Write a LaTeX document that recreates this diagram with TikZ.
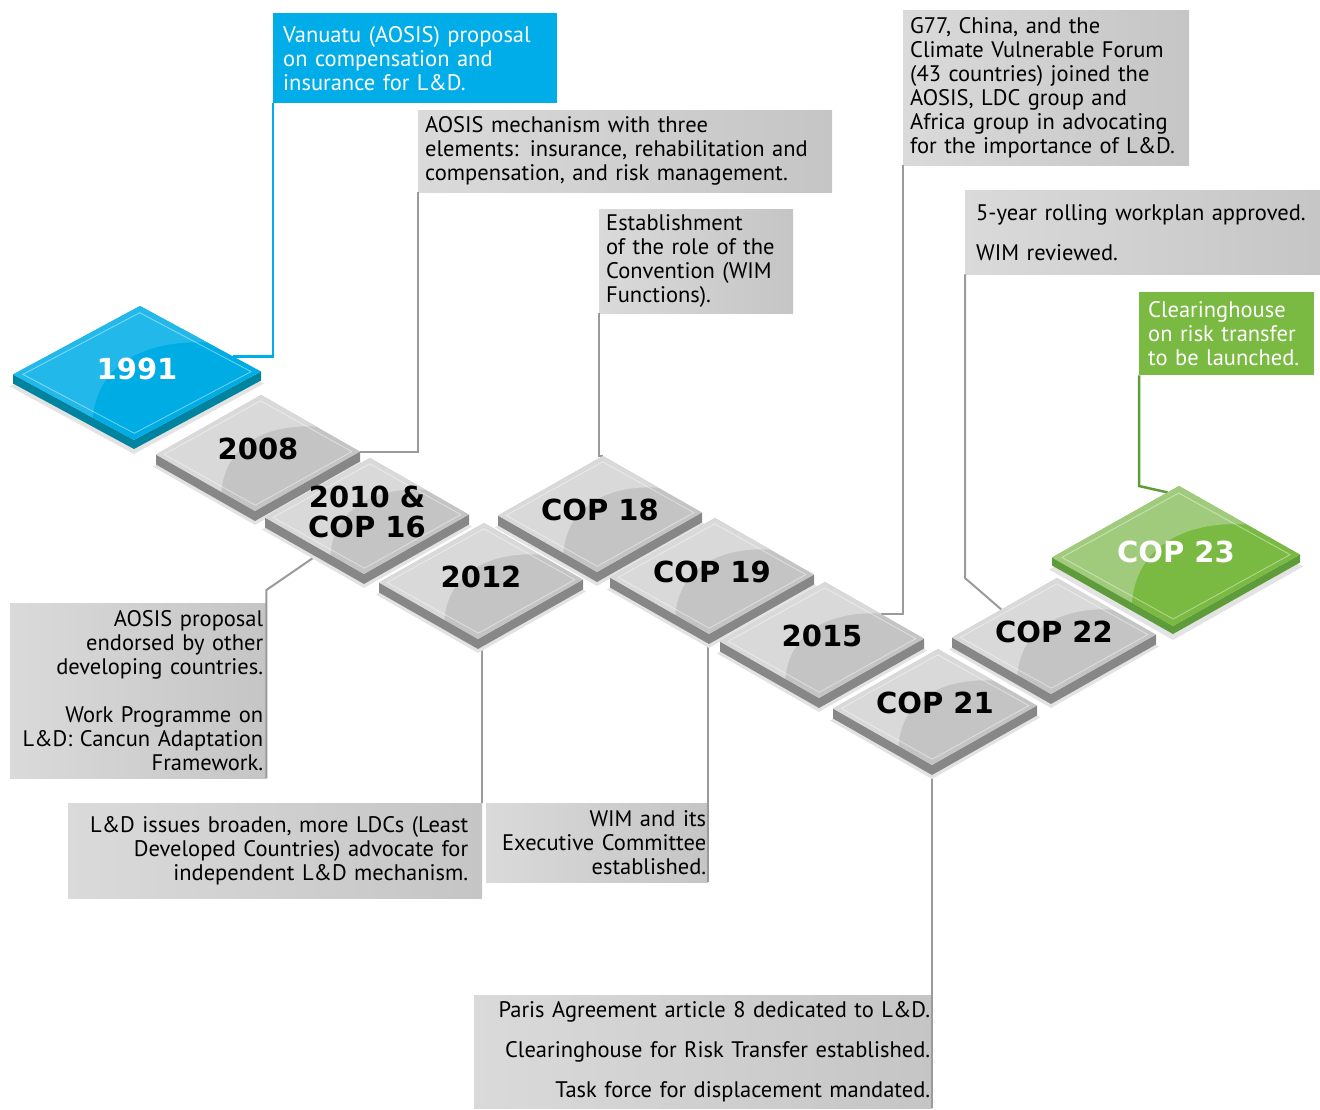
\documentclass[tikz,border=0pt]{standalone}
\usepackage{fontspec}
\setmainfont{PT Sans}
\newfontfamily\tilefamily{DejaVu Sans}
\usetikzlibrary{calc}

\definecolor{aosisblue}{HTML}{00ADE8}
\definecolor{bluetop}{HTML}{00ACE4}
\definecolor{bluelight}{HTML}{22B9EA}
\definecolor{blueside}{HTML}{00839E}
\definecolor{greentop}{HTML}{7BBA42}
\definecolor{greenlight}{HTML}{A1CB7C}
\definecolor{greenside}{HTML}{5E9B3A}
\definecolor{greytop}{HTML}{C4C4C4}
\definecolor{greylight}{HTML}{D9D9D9}
\definecolor{greyside}{HTML}{878787}
\definecolor{tileshadow}{HTML}{E3E3E3}
\definecolor{boxleft}{HTML}{DADADA}
\definecolor{boxright}{HTML}{C5C5C5}
\definecolor{linegrey}{HTML}{9A9A9A}
\definecolor{linegreen}{HTML}{5E9B3A}

\pgfdeclarelayer{front}
\pgfsetlayers{main,front}

\tikzset{
  infobox/.style={anchor=north west, inner ysep=0pt, align=left,
    font=\fontsize{22.5}{24}\selectfont},
  greybox/.style={infobox, left color=boxleft, right color=boxright, text=black},
  greyline/.style={draw=linegrey, line width=2pt},
  blueline/.style={draw=aosisblue, line width=2.5pt},
  greenline/.style={draw=linegreen, line width=2.5pt},
  tilelabel/.style={align=center, inner sep=0pt,
    font=\tilefamily\bfseries\fontsize{29}{30}\selectfont},
}

% #1 name, #2 centre, #3 half width, #4 half height, #5 thickness,
% #6 colour set, #7 label, #8 label colour
\newcommand{\tile}[8]{%
  \coordinate (#1) at #2;
  \coordinate (#1-top) at ($(#1)+(3,-#4)$);
  \coordinate (#1-right) at ($(#1)+(#3,-1.5)$);
  \coordinate (#1-bottom) at ($(#1)+(-3,#4)$);
  \coordinate (#1-left) at ($(#1)+(-#3,1.5)$);
  \fill[tileshadow] ($(#1-left)+(-3,12)$) -- ($(#1-top)+(0,12)$) -- ($(#1-right)+(3,12)$) -- ($(#1-bottom)+(0,14)$) -- cycle;
  \fill[#6side] (#1-left) -- (#1-bottom) -- (#1-right) -- ($(#1-right)+(0,#5)$) -- ($(#1-bottom)+(0,#5)$) -- ($(#1-left)+(0,#5)$) -- cycle;
  \fill[#6top] (#1-left) -- (#1-top) -- (#1-right) -- (#1-bottom) -- cycle;
  \begin{scope}
    \clip (#1-left) -- (#1-top) -- (#1-right) -- (#1-bottom) -- cycle;
    \fill[#6light] ($(#1-left)!0.66!(#1-bottom)$) .. controls ($(#1-left)!0.66!(#1-bottom)+(0.04*#3,-0.85*#4)$) and ($(#1-top)!0.56!(#1-right)+(-0.46*#3,-0.05*#4)$) .. ($(#1-top)!0.56!(#1-right)$) -- (#1-top) -- (#1-left) -- cycle;
  \end{scope}
  \draw[white, opacity=0.45, line width=0.8pt] ($(#1)!0.92!(#1-left)$) -- ($(#1)!0.9!(#1-top)$) -- ($(#1)!0.92!(#1-right)$) -- ($(#1)!0.9!(#1-bottom)$) -- cycle;
  \node[tilelabel, text=#8] (#1-label) at ($(#1)+(0,-4)$) {#7};
}

\begin{document}
\begin{tikzpicture}[x=1pt, y=-1pt]
\useasboundingbox (0,0) rectangle (1320,1110);

% tiles, back to front
\begin{pgfonlayer}{front}
\tile{t1991}{(137,373)}{124}{67}{9}{blue}{1991}{white}
\tile{t2008}{(258,453)}{102}{58}{10}{grey}{2008}{black}
\tile{tcop18}{(600,514)}{102}{58}{10}{grey}{COP 18}{black}
\tile{t2010}{(367,516)}{102}{58}{10}{grey}{2010 \&\\COP 16}{black}
\tile{tcop23}{(1176,556)}{124}{70}{8}{green}{COP 23}{white}
\tile{tcop19}{(712,576)}{102}{58}{10}{grey}{COP 19}{black}
\tile{t2012}{(481,581)}{102}{58}{10}{grey}{2012}{black}
\tile{tcop22}{(1054,636)}{102}{58}{10}{grey}{COP 22}{black}
\tile{t2015}{(822,640)}{102}{58}{10}{grey}{2015}{black}
\tile{tcop21}{(935,707)}{102}{58}{10}{grey}{COP 21}{black}
\end{pgfonlayer}

% text boxes
\node[infobox, fill=aosisblue, text=white, inner xsep=10pt, text width=264pt, minimum height=90pt] (vanuatu) at (273,13)
  {Vanuatu (AOSIS) proposal\\on compensation and\\insurance for L\&D.};
\node[greybox, inner xsep=7pt, text width=400pt, minimum height=82pt] (aosismech) at (418,110)
  {AOSIS mechanism with three\\elements: insurance, rehabilitation and\\compensation, and risk management.};
\node[greybox, inner xsep=7pt, text width=180pt, minimum height=104pt] (establish) at (599,209)
  {Establishment\\of the role of the\\Convention (WIM\\Functions).};
\node[greybox, inner xsep=7pt, text width=272pt, minimum height=155pt] (g77) at (903,10)
  {G77, China, and the\\Climate Vulnerable Forum\\(43 countries) joined the\\AOSIS, LDC group and\\Africa group in advocating\\for the importance of L\&D.};
\node[greybox, inner xsep=11pt, text width=345pt, minimum height=84pt] (workplan) at (965,190)
  {5-year rolling workplan approved.\\[16pt]WIM reviewed.};
\node[infobox, fill=greentop, text=white, inner xsep=9pt, text width=157pt, minimum height=83pt] (clearing) at (1139,292)
  {Clearinghouse\\on risk transfer\\to be launched.};
\node[greybox, align=right, inner xsep=3pt, text width=250pt, minimum height=175pt] (proposal) at (10,603)
  {AOSIS proposal\\endorsed by other\\developing countries.\\[24pt]Work Programme on\\L\&D: Cancun Adaptation\\Framework.};
\node[greybox, align=right, inner xsep=14pt, text width=386pt, minimum height=95pt] (ldissues) at (68,803)
  {L\&D issues broaden, more LDCs (Least\\Developed Countries) advocate for\\independent L\&D mechanism.};
\node[greybox, align=right, inner xsep=2pt, text width=218pt, minimum height=79pt] (wim) at (486,803)
  {WIM and its\\Executive Committee\\established.};
\node[greybox, align=right, inner xsep=2pt, text width=454pt, minimum height=113pt] (paris) at (474,995)
  {Paris Agreement article 8 dedicated to L\&D.\\[16pt]Clearinghouse for Risk Transfer established.\\[16pt]Task force for displacement mandated.};

% connectors
\draw[blueline] (vanuatu.south west) |- ($(t1991-top)!0.77!(t1991-right)$);
\draw[greyline] (aosismech.south west) |- (t2008-right);
\draw[greyline] (establish.south west) |- (tcop18-top);
\draw[greyline] (g77.south west) |- ($(t2015-top)!0.57!(t2015-right)$);
\draw[greyline] (workplan.south west) -- (workplan.south west |- tcop22-top) -- ($(tcop22-left)!0.47!(tcop22-top)$);
\draw[greenline] (clearing.south west) -- (clearing.south west |- tcop23-top) -- ($(tcop23-top)!0.09!(tcop23-left)$);
\draw[greyline] (proposal.south east) -- ([yshift=13pt]proposal.north east) -- ($(t2010-left)!0.59!(t2010-bottom)$);
\draw[greyline] (ldissues.north east) -- (ldissues.north east |- t2012-bottom);
\draw[greyline] (wim.south east) -- (wim.north east |- tcop19-bottom);
\draw[greyline] (paris.south east) -- (paris.north east |- tcop21-bottom);

\end{tikzpicture}
\end{document}
